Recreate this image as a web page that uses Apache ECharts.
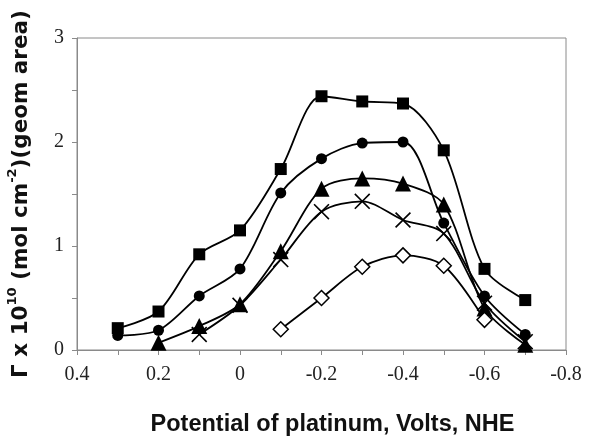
<!DOCTYPE html>
<html><head><meta charset="utf-8">
<script src="https://cdn.jsdelivr.net/npm/echarts@6/dist/echarts.min.js"></script>
<style>html,body{margin:0;padding:0;background:#fff}#c{width:610px;height:438px}</style>
</head><body><div id="c"></div>
<script>
const xValues = [0.3, 0.2, 0.1, 0, -0.1, -0.2, -0.3, -0.4, -0.5, -0.6, -0.7];
const squareVals = [0.21, 0.37, 0.92, 1.15, 1.74, 2.44, 2.39, 2.37, 1.92, 0.78, 0.48];
const circleVals = [0.14, 0.19, 0.52, 0.78, 1.51, 1.84, 1.99, 2.00, 1.22, 0.52, 0.15];
const triangleVals = [null, 0.07, 0.23, 0.44, 0.95, 1.55, 1.65, 1.60, 1.40, 0.40, 0.05];
const crossVals = [null, null, 0.15, 0.43, 0.87, 1.33, 1.43, 1.25, 1.12, 0.45, 0.08];
const diamondVals = [null, null, null, null, 0.20, 0.50, 0.80, 0.91, 0.81, 0.29, null];
const xTickLabels = ['0.4', '0.2', '0', '-0.2', '-0.4', '-0.6', '-0.8'];
const yTickLabels = ['0', '1', '2', '3'];

function pairs(vals) {
  return xValues.map((x, i) => [x, vals[i]]).filter(p => p[1] !== null);
}
const crossPath = 'path://M0,1L1,0L7,6L13,0L14,1L8,7L14,13L13,14L7,8L1,14L0,13L6,7Z';

const lineStyle = { color: '#000', width: 1.8 };
function mk(name, vals, symbol, size, itemStyle) {
  return {
    name, type: 'line', data: pairs(vals), smooth: 0.3,
    symbol, symbolSize: size, showSymbol: true,
    lineStyle, itemStyle, emphasis: { disabled: true }, z: 3
  };
}

const chart = echarts.init(document.getElementById('c'), null, { renderer: 'canvas' });
chart.setOption({
  animation: false,
  backgroundColor: '#fff',
  grid: { left: 77, right: 44, top: 38, bottom: 88, show: true, borderColor: '#8a8a8a', borderWidth: 1, containLabel: false, outerBoundsMode: 'none' },
  xAxis: {
    type: 'value', inverse: true, min: -0.8, max: 0.4, interval: 0.1,
    axisLine: { show: true, onZero: false, lineStyle: { color: '#8a8a8a', width: 1 } },
    axisTick: { show: true, length: 5, lineStyle: { color: '#8a8a8a' } },
    splitLine: { show: false },
    axisLabel: {
      margin: 15, color: '#222', fontFamily: 'Liberation Serif', fontSize: 20,
      formatter: v => {
        const k = Math.round(v * 10);
        if (k % 2 !== 0) return '';
        const s = (k / 10).toString();
        return xTickLabels.includes(s) ? s : '';
      }
    },
    name: 'Potential of platinum, Volts, NHE', nameLocation: 'middle', nameGap: 63,
    nameTextStyle: { fontFamily: 'Liberation Sans', fontWeight: 'bold', fontSize: 23.5, color: '#111', padding: [0, 0, 0, 22] }
  },
  yAxis: {
    type: 'value', min: 0, max: 3, interval: 0.5,
    axisLine: { show: true, onZero: false, lineStyle: { color: '#8a8a8a', width: 1 } },
    axisTick: { show: true, length: 5, lineStyle: { color: '#8a8a8a' } },
    splitLine: { show: false },
    axisLabel: {
      margin: 13, color: '#222', fontFamily: 'Liberation Serif', fontSize: 20,
      formatter: v => {
        const s = String(Math.round(v * 10) / 10);
        return yTickLabels.includes(s) ? s : '';
      }
    },
    name: '{a|Γ x 10}{s|10}{a| (mol cm}{s|-2}{a|)(geom area)}', nameLocation: 'middle', nameGap: 45, nameRotate: 90,
    nameTextStyle: {
      fontFamily: 'DejaVu Sans', fontWeight: 'bold', fontSize: 21.5, color: '#111',
      rich: {
        a: { fontFamily: 'DejaVu Sans', fontWeight: 'bold', fontSize: 21.5, color: '#111', lineHeight: 26, verticalAlign: 'bottom' },
        s: { fontFamily: 'DejaVu Sans', fontWeight: 'bold', fontSize: 13, color: '#111', lineHeight: 26, verticalAlign: 'top', padding: [0, 0, 8, 0] }
      }
    }
  },
  series: [
    mk('squares', squareVals, 'rect', 12, { color: '#000' }),
    mk('circles', circleVals, 'circle', 11, { color: '#000' }),
    mk('triangles', triangleVals, 'triangle', 16, { color: '#000' }),
    mk('crosses', crossVals, crossPath, 16, { color: '#000' }),
    mk('diamonds', diamondVals, 'diamond', 15, { color: '#fff', borderColor: '#000', borderWidth: 1.5 })
  ]
});
</script>
</body></html>
